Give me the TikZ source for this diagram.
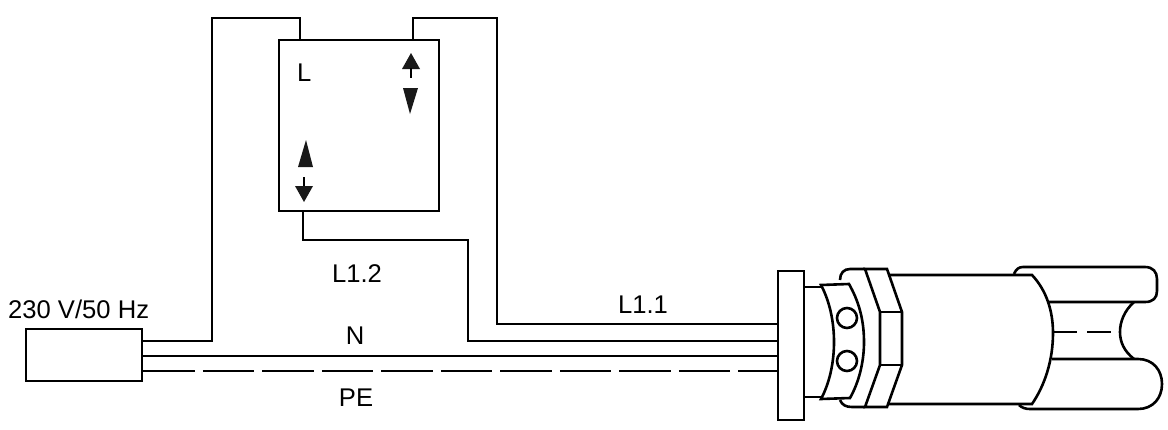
\documentclass[tikz,border=0pt]{standalone}
\usepackage{fontspec}
\setmainfont{Liberation Sans}
\tikzset{
	wire/.style={line width=2.6pt, line join=miter},
	pewire/.style={wire, dash pattern=on 51.5pt off 8pt},
	part/.style={draw, line width=2.6pt, fill=white, inner sep=0pt},
	lbl/.style={font=\fontsize{25.6}{28}\selectfont, inner sep=0pt},
	tip/.style={fill=black!90, draw=none}
}
\begin{document}
\begin{tikzpicture}[x=1pt,y=-1pt]
	\useasboundingbox (0,0) rectangle (1168,429);
	% wires first, the parts lie over them
	\node[part, minimum width=116pt, minimum height=52pt] (plug) at (84,355) {};
	\node[part, minimum width=160pt, minimum height=171pt] (relay) at (359,125.5) {};
	\node[part, minimum width=26pt, minimum height=149pt] (flange) at (791,345.5) {};
	\coordinate (lin) at (300,40);
	\coordinate (lout) at (413,40);
	\coordinate (lback) at (303,211);
	\draw[wire] (plug.east |- 0,341) -- (212,341) -- (212,18) -- (300,18) -- (lin);
	\draw[wire] (lout) -- (413,18) -- (497,18) -- (497,324) -- (flange.west |- 0,324);
	\draw[wire] (lback) -- (303,240) -- (468,240) -- (468,341) -- (flange.west |- 0,341);
	\draw[wire] (plug.east |- 0,356) -- (flange.west |- 0,356);
	\draw[pewire] (plug.east |- 0,371) -- (flange.west |- 0,371);
	% relay marks
	\fill[tip] (411,53) -- (420,69) -- (402,69) -- cycle;
	\draw[line width=2.6pt] (411,68) -- (411,78);
	\fill[tip] (403,88) -- (418,88) -- (410,114) -- cycle;
	\fill[tip] (306,140) -- (313,167) -- (298,167) -- cycle;
	\draw[line width=2.6pt] (304,177) -- (304,190);
	\fill[tip] (295,186) -- (313,186) -- (304,202) -- cycle;
	% gland and cable
	\draw[wire] (1014,274) .. controls (1016,269) and (1019,267) .. (1023,267) -- (1145,267) .. controls (1153,267) and (1157,272) .. (1157,279) -- (1157,291) .. controls (1157,298) and (1153,302) .. (1145,302) -- (1047,302);
	\draw[wire] (1052,359) -- (1138,359) .. controls (1153,359) and (1162,370) .. (1162,384) .. controls (1162,398) and (1153,409) .. (1138,409) -- (1030,409) .. controls (1026,409) and (1022,408) .. (1019,405);
	\draw[wire] (1134,302) .. controls (1124,311) and (1120,322) .. (1120,332) .. controls (1120,342) and (1124,351) .. (1134,359);
	\draw[wire, dash pattern=on 24pt off 10pt] (1053,332) -- (1111,332);
	\draw[wire] (888,275) -- (1032,275) .. controls (1047,291) and (1053,312) .. (1053,333) .. controls (1053,360) and (1045,385) .. (1032,404) -- (888,404);
	\draw[wire] (840,280) .. controls (840,273) and (844,269) .. (850,269) -- (865,269);
	\draw[wire] (840,400) .. controls (842,405) and (846,407) .. (852,407) -- (865,407);
	\draw[wire] (865,269) -- (887,269) -- (902,312) -- (902,365) -- (887,407) -- (865,407) -- (880,365) -- (880,312) -- cycle;
	\draw[wire] (880,312) -- (902,312) (880,365) -- (902,365);
	\draw[wire] (flange.east |- 0,287) -- (822,287);
	\draw[wire] (flange.east |- 0,397) -- (822,397);
	\draw[wire] (821,285) .. controls (829,300) and (834,320) .. (834,342) .. controls (834,364) and (829,384) .. (821,399) -- (850,398) .. controls (859,382) and (864,362) .. (864,342) .. controls (864,318) and (858,300) .. (849,284) -- cycle;
	\node[part, circle, minimum size=20pt] (screwa) at (847,318) {};
	\node[part, circle, minimum size=20pt] (screwb) at (847,361) {};
	% labels
	\node[lbl, anchor=base west] (mains) at (8,318) {230 V/50 Hz};
	\node[lbl, anchor=base west] (lname) at (297,81) {L};
	\node[lbl, anchor=base] (ltwo) at (357,282) {L1.2};
	\node[lbl, anchor=base] (lone) at (643,313) {L1.1};
	\node[lbl, anchor=base] (nname) at (355,344) {N};
	\node[lbl, anchor=base] (pename) at (356,406) {PE};
\end{tikzpicture}
\end{document}
